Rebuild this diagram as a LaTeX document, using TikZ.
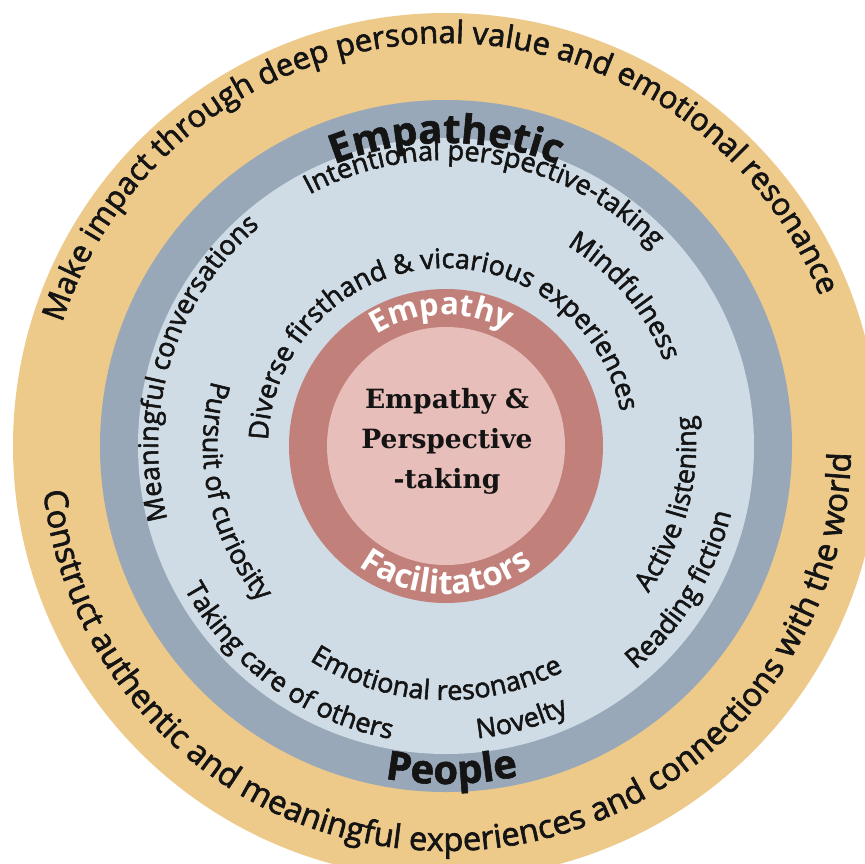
\documentclass[tikz,border=0pt]{standalone}
\usepackage{fontspec}
\setmainfont{Open Sans}
\newfontfamily\rkMed{Open Sans}[FakeBold=2]
\newfontfamily\rkHeavy{Open Sans}[FakeBold=1.5]
\newfontfamily\rkSerif{DejaVu Serif}
\usetikzlibrary{decorations.text}
\definecolor{rkgold}{HTML}{EDC98A}
\definecolor{rkgray}{HTML}{98A8B8}
\definecolor{rkblue}{HTML}{CFDCE6}
\definecolor{rkred}{HTML}{C1807A}
\definecolor{rkpink}{HTML}{E8BEBA}
\definecolor{rkink}{HTML}{141414}
\newcommand\rkOutT{\rkMed\fontsize{31pt}{31pt}\selectfont\color{rkink}}
\newcommand\rkOutB{\rkMed\fontsize{32.5pt}{32.5pt}\selectfont\color{rkink}}
\newcommand\rkLbl{\rkMed\fontsize{27pt}{27pt}\selectfont\color{rkink}}
\newcommand\rkBig{\rkHeavy\fontsize{40pt}{40pt}\selectfont\bfseries\color{rkink}}
\newcommand\rkRed{\fontsize{31pt}{31pt}\selectfont\bfseries\color{white}}
\newcommand\rkRedB{\fontsize{33pt}{33pt}\selectfont\bfseries\color{white}}
% clockwise arc text (letters face outward): centre angle, radius, half span, font, text
\newcommand\rkCW[5]{%
  \path[decorate,decoration={text along path,text align=center,text={|#4|#5}}]
    ([shift={(C)}]{#1+#3}:#2) arc[start angle={#1+#3}, end angle={#1-#3}, radius=#2];}
% counter-clockwise arc text (letters face the centre)
\newcommand\rkCCW[5]{%
  \path[decorate,decoration={text along path,text align=center,text={|#4|#5}}]
    ([shift={(C)}]{#1-#3}:#2) arc[start angle={#1-#3}, end angle={#1+#3}, radius=#2];}
\begin{document}
\begin{tikzpicture}
\useasboundingbox (0,0) rectangle (865pt,-863pt);
\clip (0,0) rectangle (865pt,-863pt);
\fill[white] (0,0) rectangle (865pt,-863pt);
\coordinate (C) at (446pt,-446pt);
\fill[rkgold] (C) circle[radius=433pt];
\fill[rkgray] (C) circle[radius=346pt];
\fill[rkblue] (C) circle[radius=308pt];
\fill[rkred] (C) circle[radius=157pt];
\fill[rkpink] (C) circle[radius=119pt];
% outer ring
\rkCW{92}{403pt}{100}{\rkOutT}{Make impact through deep personal value and emotional resonance}
\rkCCW{272.7}{405pt}{100}{\rkOutB}{Construct authentic and meaningful experiences and connections with the world}
% grey ring
\rkCW{90}{303pt}{60}{\rkBig}{Empathetic}
\rkCCW{271}{338pt}{30}{\rkBig}{People}
% light blue ring
\rkCW{81}{286pt}{60}{\rkLbl}{Intentional perspective-taking}
\rkCW{40}{234pt}{30}{\rkLbl}{Mindfulness}
\rkCW{162.5}{288pt}{50}{\rkLbl}{Meaningful conversations}
\rkCW{94.6}{178pt}{100}{\rkLbl}{Diverse firsthand {\&} vicarious experiences}
\rkCCW{192.2}{243pt}{45}{\rkLbl}{Pursuit of curiosity}
\rkCCW{234}{298pt}{40}{\rkLbl}{Taking care of others}
\rkCCW{267.5}{254pt}{45}{\rkLbl}{Emotional resonance}
\rkCCW{285.4}{294pt}{20}{\rkLbl}{Novelty}
\rkCCW{345.5}{250pt}{40}{\rkLbl}{Active listening}
\rkCCW{328.5}{293pt}{30}{\rkLbl}{Reading fiction}
% red ring
\rkCW{92}{131pt}{50}{\rkRed}{Empathy}
\rkCCW{270}{148pt}{60}{\rkRedB}{Facilitators}
% centre
\node[align=center, text=rkink, font={\rkSerif\bfseries\fontsize{26.5pt}{40pt}\selectfont}] (ctr) at (447pt,-441pt) {Empathy \&\\Perspective\\-taking};
\end{tikzpicture}
\end{document}
